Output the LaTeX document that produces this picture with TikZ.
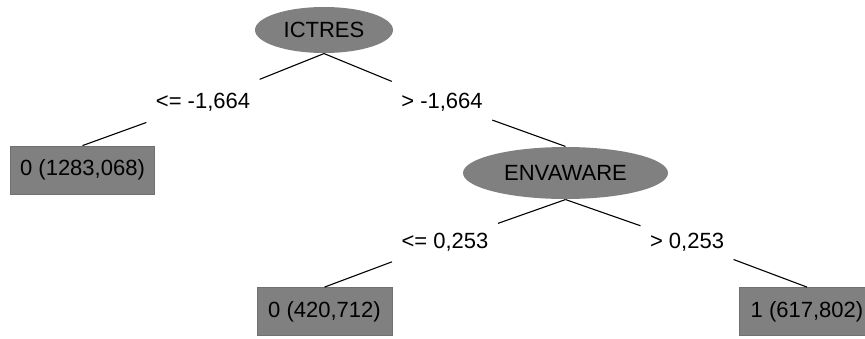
\documentclass[tikz,border=0pt]{standalone}
\usepackage{fontspec}
\setmainfont{Liberation Sans}
\usetikzlibrary{shapes.geometric, positioning}

\definecolor{nodegray}{RGB}{128,128,128}
\definecolor{rimgray}{RGB}{112,112,112}

\begin{document}
\begin{tikzpicture}[on grid, line width=1.1pt,
  every node/.style={font=\fontsize{22}{26}\selectfont},
  split/.style={ellipse, fill=nodegray, inner sep=8pt},
  leaf/.style={rectangle, fill=nodegray, draw=rimgray, line width=0.8pt,
    minimum width=135pt, minimum height=48pt, inner xsep=10pt},
  cond/.style={inner xsep=9pt, minimum height=46pt}]
  \clip (0pt,0pt) rectangle (865pt,-338pt);
  \node[split, minimum width=138pt, minimum height=46pt] (ictres) at (324pt,-30pt) {ICTRES};
  \node[cond] (c1) [below left=72pt and 121pt of ictres] {<= -1,664};
  \node[cond] (c2) [below right=72pt and 118pt of ictres] {> -1,664};
  \node[leaf] (l1) [below left=68pt and 120.5pt of c1] {0 (1283,068)};
  \node[split, minimum width=205pt, minimum height=52pt] (envaware) [below right=71pt and 123.5pt of c2] {ENVAWARE};
  \node[cond] (c3) [below left=69pt and 120.5pt of envaware] {<= 0,253};
  \node[cond] (c4) [below right=69pt and 121.5pt of envaware] {> 0,253};
  \node[leaf] (l2) [below left=69.5pt and 120.5pt of c3] {0 (420,712)};
  \node[leaf] (l3) [below right=69.5pt and 120pt of c4] {1 (617,802)};

  \path[draw]
  (ictres.south) edge (c1)
  (ictres.south) edge (c2)
  (c1) edge (l1.north)
  (c2) edge (envaware.north)
  (envaware.south) edge (c3)
  (envaware.south) edge (c4)
  (c3) edge (l2.north)
  (c4) edge (l3.north)
  ;
\end{tikzpicture}
\end{document}
